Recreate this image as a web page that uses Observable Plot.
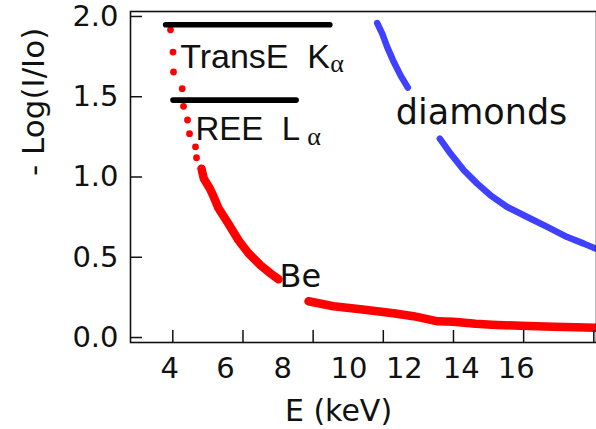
<!DOCTYPE html>
<html>
<head>
<meta charset="utf-8">
<script src="https://cdn.jsdelivr.net/npm/d3@7"></script>
<script src="https://cdn.jsdelivr.net/npm/@observablehq/plot@0.6"></script>
<style>
  html, body { margin: 0; padding: 0; background: #fff; }
</style>
</head>
<body>
<div id="chart"></div>
<script>
// -Log(I/Io) of a Be window and of diamond anvils versus X-ray energy (keV).
// null marks the stretch hidden behind a curve label.
const beEnergy = [3.934, 4.006, 4.020, 4.268, 4.305, 4.419, 4.476, 4.647, 4.676, 4.818,
                  4.884, 5.055, 5.169, 5.303, 5.559, 5.873, 6.158, 6.500, 6.785, 7.013,
                  null,
                  7.868, 8.581, 9.350, 10.29, 10.86, 11.55, 12.00, 12.63, 13.09, 13.91,
                  14.85, 15.48, 16.08];
const beAbsorb = [1.917, 1.778, 1.654, 1.550, 1.440, 1.355, 1.270, 1.188, 1.120, 1.052,
                  0.990, 0.928, 0.875, 0.805, 0.718, 0.606, 0.525, 0.450, 0.400, 0.363,
                  null,
                  0.226, 0.195, 0.176, 0.151, 0.133, 0.101, 0.098, 0.086, 0.080, 0.073,
                  0.067, 0.064, 0.061];

const diamondEnergy = [9.827, 9.969, 10.112, 10.300, 10.491, 10.699,
                       null,
                       11.611, 11.916, 12.295, 12.677, 13.056, 13.532, 14.103, 14.673,
                       15.243, 15.716, 16.050];
const diamondAbsorb = [1.959, 1.893, 1.809, 1.716, 1.633, 1.557,
                       null,
                       1.239, 1.146, 1.042, 0.959, 0.886, 0.813, 0.751, 0.689,
                       0.626, 0.585, 0.554];

// Energy ranges of the emission lines of interest
const lineGroups  = ["TransE", "REE"];
const lineSeries  = ["K", "L"];
const lineStart   = [3.81, 4.02];
const lineEnd     = [8.49, 7.53];
const lineLevel   = [1.948, 1.479];

// Axes
const yTicks = [0, 0.5, 1.0, 1.5, 2.0];
const xTicks = [4, 6, 8, 10, 12, 14, 16];
const xTickLabels = ["4", "6", "8", "10", "12", "14", "16"];
const xTickLabelAt = [3.91, 5.50, 7.13, 9.02, 10.60, 12.22, 13.79];
const xTitle = "E (keV)";
const yTitle = "- Log(I/Io)";

const be = beEnergy.map((e, i) => ({e, v: beAbsorb[i]}));
const diamonds = diamondEnergy.map((e, i) => ({e, v: diamondAbsorb[i]}));
const lines = lineGroups.map((g, i) => ({
  group: g, series: lineSeries[i], start: lineStart[i], end: lineEnd[i], level: lineLevel[i]
}));

const RED = "#ff0000";
const BLUE = "#4040ff";
const INK = "#111";
const GOTHIC = "DejaVu Sans";
const SANS = "Liberation Sans";

const chart = Plot.plot({
  width: 596,
  height: 429,
  marginLeft: 130,
  marginRight: 0,
  marginTop: 11,
  marginBottom: 87,
  x: {domain: [2.794, 16.077]},
  y: {domain: [-0.031, 2.031]},
  style: {fontFamily: GOTHIC, background: "#fff", color: INK},
  marks: [
    // Be window
    Plot.line(be.slice(9), {x: "e", y: "v", stroke: RED, strokeWidth: 8.5,
      strokeLinecap: "round", strokeLinejoin: "round"}),
    Plot.dot(be, {x: "e", y: "v", r: 3.4, fill: RED}),
    // diamond anvils
    Plot.line(diamonds, {x: "e", y: "v", stroke: BLUE, strokeWidth: 6.5,
      strokeLinecap: "round", strokeLinejoin: "round"}),

    // emission line ranges
    Plot.ruleY(lines, {x1: "start", x2: "end", y: "level", stroke: "#000",
      strokeWidth: 5.6, strokeLinecap: "round"}),
    Plot.text([lines[0]], {x: "start", y: "level", text: d => `${d.group}\u00a0\u00a0${d.series}`,
      textAnchor: "start", dx: 14, dy: 32.6, fontSize: 34, fontFamily: SANS, fill: INK}),
    Plot.text([lines[0]], {x: "end", y: "level", text: () => "α",
      textAnchor: "start", dx: 0, dy: 39, fontSize: 26, fontFamily: "Liberation Serif", fill: INK}),
    Plot.text([lines[1]], {x: "start", y: "level", text: d => `${d.group}\u00a0\u00a0${d.series}`,
      textAnchor: "start", dx: 22, dy: 29.4, fontSize: 33, fontFamily: SANS, fill: INK}),
    Plot.text([lines[1]], {x: "end", y: "level", text: () => "α",
      textAnchor: "start", dx: 10.7, dy: 37, fontSize: 26, fontFamily: "Liberation Serif", fill: INK}),

    // curve labels
    Plot.text([be[19]], {x: "e", y: "v", text: () => "Be", textAnchor: "start",
      dx: 1, dy: -2.2, fontSize: 32, fill: INK}),
    Plot.text([diamonds[5]], {x: "e", y: "v", text: () => "diamonds", textAnchor: "start",
      dx: -12, dy: 25.5, fontSize: 35, fill: INK}),

    // axes: inward ticks, then labels
    Plot.axisY({ticks: yTicks, tickSize: -12, tickFormat: () => "", strokeWidth: 1.5, label: null}),
    Plot.axisY({ticks: yTicks, tickSize: 0, tickPadding: 12, tickFormat: ".1f",
      fontSize: 29, label: null}),
    Plot.axisX({ticks: xTicks, tickSize: -12, tickFormat: () => "", strokeWidth: 1.5, label: null}),
    Plot.axisX({ticks: xTickLabelAt, tickSize: 0, tickPadding: 15,
      tickFormat: d => xTickLabels[xTickLabelAt.indexOf(d)], fontSize: 29, label: null}),
    Plot.frame({stroke: INK, strokeWidth: 1.6}),

    // axis titles
    Plot.text([xTitle], {frameAnchor: "bottom", lineAnchor: "top", dx: -25, dy: 56.7,
      fontSize: 30, fill: INK}),
    Plot.text([yTitle], {frameAnchor: "left", rotate: -90, dx: -96.6, dy: -1,
      fontSize: 31, fill: INK})
  ]
});

document.getElementById("chart").appendChild(chart);
</script>
</body>
</html>
